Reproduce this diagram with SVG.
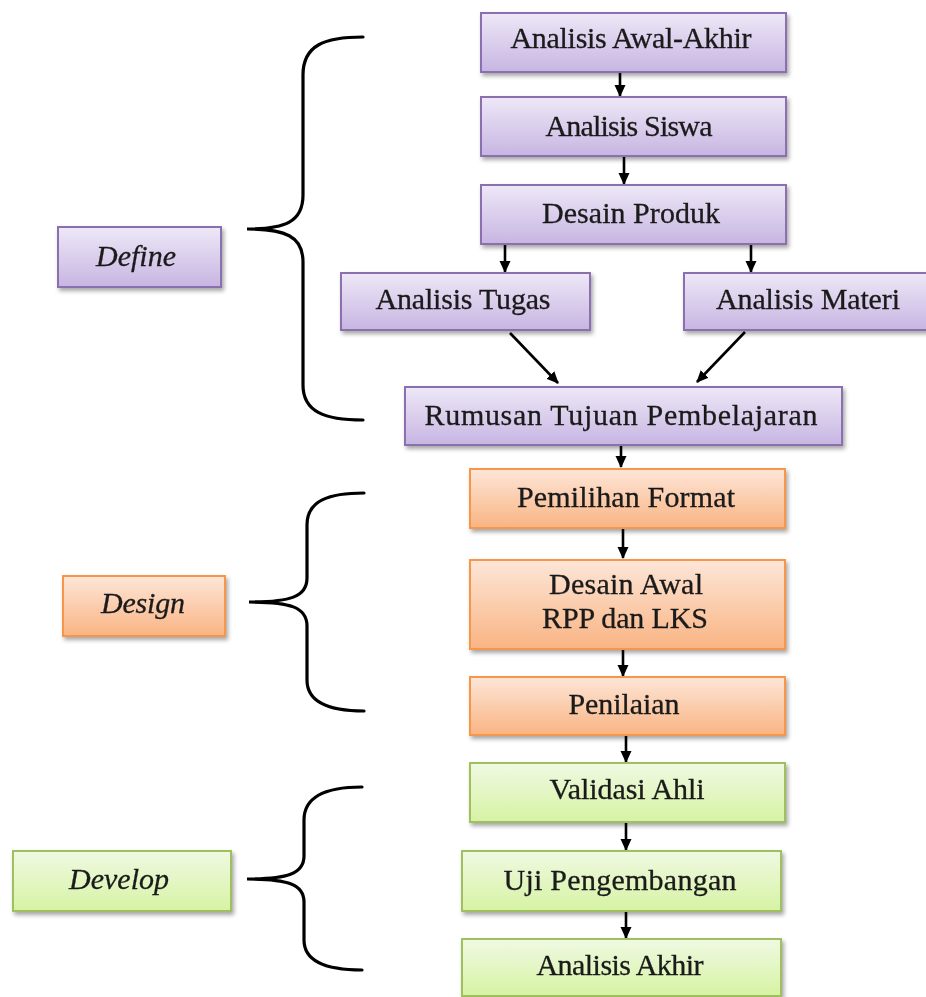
<svg xmlns="http://www.w3.org/2000/svg" width="926" height="997" viewBox="0 0 926 997">
<style>
text{font-family:"Liberation Serif","Times New Roman",serif;font-size:30px;fill:#1a1a1a;text-anchor:middle;stroke:#1a1a1a;stroke-width:0.3}
.it{font-style:italic}
.pu{fill:url(#gp);stroke:#8b6fb0;stroke-width:2}
.or{fill:url(#go);stroke:#f7964a;stroke-width:2}
.gr{fill:url(#gg);stroke:#a0c060;stroke-width:2}
.box{filter:url(#sh)}
.ar{stroke:#000;stroke-width:2.6;fill:none;marker-end:url(#ah)}
.br{stroke:#000;stroke-width:3.2;fill:none;stroke-linecap:round}
</style>
<defs>
<linearGradient id="gp" x1="0" y1="0" x2="0" y2="1"><stop offset="0" stop-color="#eee8f7"/><stop offset="1" stop-color="#c7b5e2"/></linearGradient>
<linearGradient id="go" x1="0" y1="0" x2="0" y2="1"><stop offset="0" stop-color="#fde6d8"/><stop offset="1" stop-color="#f9b483"/></linearGradient>
<linearGradient id="gg" x1="0" y1="0" x2="0" y2="1"><stop offset="0" stop-color="#f0f9e3"/><stop offset="1" stop-color="#d6f3a3"/></linearGradient>
<filter id="sh" x="-10%" y="-20%" width="130%" height="160%"><feDropShadow dx="2" dy="3" stdDeviation="2" flood-color="#000" flood-opacity="0.35"/></filter>
<marker id="ah" markerUnits="userSpaceOnUse" markerWidth="12" markerHeight="12" refX="11" refY="6" orient="auto" viewBox="0 0 12 12"><path d="M0,0.5 L12,6 L0,11.5 z" fill="#000"/></marker>
</defs>
<g id="connectors">
<line class="ar" x1="620" y1="72" x2="620" y2="96"/>
<line class="ar" x1="624" y1="156" x2="624" y2="184"/>
<line class="ar" x1="505" y1="244" x2="505" y2="272"/>
<line class="ar" x1="751" y1="244" x2="751" y2="272"/>
<line class="ar" x1="510" y1="333" x2="558" y2="383"/>
<line class="ar" x1="745" y1="332" x2="697" y2="382"/>
<line class="ar" x1="621" y1="446" x2="621" y2="467"/>
<line class="ar" x1="623" y1="529" x2="623" y2="558"/>
<line class="ar" x1="623" y1="650" x2="623" y2="676"/>
<line class="ar" x1="626" y1="736" x2="626" y2="762"/>
<line class="ar" x1="626" y1="823" x2="626" y2="850"/>
<line class="ar" x1="626" y1="912" x2="626" y2="938"/>
</g>
<g id="braces">
<path class="br" d="M363,37 C325,37 303,45 303,75 L303,195 C303,222 285,229 247,229 C285,229 303,236 303,262 L303,385 C303,412 325,420 363,420"/>
<path class="br" d="M364,493 C330,493 307,500 307,525 L307,578 C307,597 290,602 249,602 C290,602 307,607 307,626 L307,680 C307,703 330,711 364,711"/>
<path class="br" d="M362,787 C328,787 304,795 304,820 L304,856 C304,874 287,879 247,879 C287,879 304,884 304,902 L304,940 C304,962 328,970 362,970"/>
</g>
<g id="n1" class="box"><rect class="pu" x="481" y="13" width="305" height="59"/><text x="631" y="48" textLength="241">Analisis Awal-Akhir</text></g>
<g id="n2" class="box"><rect class="pu" x="481" y="97" width="305" height="59"/><text x="629" y="136" textLength="167">Analisis Siswa</text></g>
<g id="n3" class="box"><rect class="pu" x="481" y="185" width="305" height="59"/><text x="631" y="223" textLength="178">Desain Produk</text></g>
<g id="n4" class="box"><rect class="pu" x="341" y="273" width="249" height="57"/><text x="463" y="309" textLength="175">Analisis Tugas</text></g>
<g id="n5" class="box"><rect class="pu" x="684" y="273" width="250" height="57"/><text x="808" y="309" textLength="184">Analisis Materi</text></g>
<g id="n6" class="box"><rect class="pu" x="405" y="387" width="437" height="58"/><text x="621" y="425" textLength="393">Rumusan Tujuan Pembelajaran</text></g>
<g id="define" class="box"><rect class="pu" x="58" y="227" width="163" height="60"/><text class="it" x="136" y="266" textLength="80">Define</text></g>
<g id="n7" class="box"><rect class="or" x="470" y="469" width="315" height="59"/><text x="626" y="507" textLength="218">Pemilihan Format</text></g>
<g id="n8" class="box"><rect class="or" x="470" y="560" width="315" height="89"/><text x="626" y="594" textLength="154">Desain Awal</text><text x="625" y="628" textLength="166">RPP dan LKS</text></g>
<g id="n9" class="box"><rect class="or" x="470" y="677" width="315" height="58"/><text x="624" y="714" textLength="111">Penilaian</text></g>
<g id="design" class="box"><rect class="or" x="63" y="576" width="162" height="60"/><text class="it" x="143" y="613" textLength="84">Design</text></g>
<g id="n10" class="box"><rect class="gr" x="470" y="763" width="315" height="59"/><text x="627" y="799" textLength="155">Validasi Ahli</text></g>
<g id="n11" class="box"><rect class="gr" x="462" y="851" width="319" height="60"/><text x="620" y="890" textLength="233">Uji Pengembangan</text></g>
<g id="n12" class="box"><rect class="gr" x="462" y="939" width="319" height="57"/><text x="620" y="975" textLength="167">Analisis Akhir</text></g>
<g id="develop" class="box"><rect class="gr" x="13" y="851" width="218" height="60"/><text class="it" x="119" y="889" textLength="100">Develop</text></g>
</svg>
